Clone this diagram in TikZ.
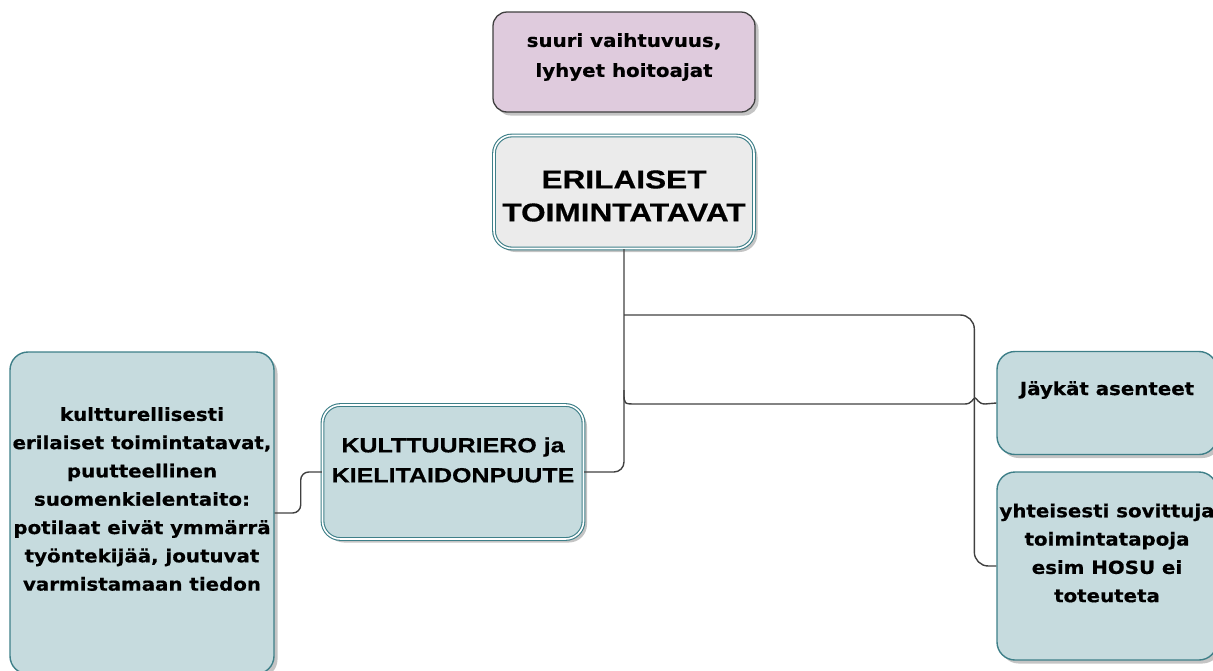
\documentclass[tikz,border=0pt]{standalone}
\usepackage{fontspec}
\usetikzlibrary{calc}
\newfontfamily\dvs[FakeStretch=1.1,FakeBold=0.5]{DejaVu Sans}
\newfontfamily\lbs[FakeStretch=1.22,FakeBold=0.5]{Liberation Sans}
\definecolor{teal1}{HTML}{3E7F88}
\definecolor{tealfill}{HTML}{C6DBDE}
\definecolor{pinkfill}{HTML}{DFCBDD}
\definecolor{grayfill}{HTML}{EBEBEB}
\definecolor{shadowc}{HTML}{C4C4C4}
\definecolor{linec}{HTML}{404040}
\tikzset{
  shadowed/.style={preaction={fill=shadowc, transform canvas={shift={(3.5pt,-3.5pt)}}}},
  pinkbox/.style={draw=linec, line width=1.3pt, fill=pinkfill, rounded corners=14pt, shadowed, inner sep=0pt},
  graybox/.style={draw=teal1, double=white, double distance=1.6pt, line width=1.1pt, fill=grayfill, rounded corners=18pt, shadowed, inner sep=0pt},
  dtealbox/.style={draw=teal1, double=white, double distance=1.6pt, line width=1.1pt, fill=tealfill, rounded corners=18pt, shadowed, inner sep=0pt},
  tealbox/.style={draw=teal1, line width=1.4pt, fill=tealfill, rounded corners=18pt, shadowed, inner sep=0pt},
  smalltxt/.style={font=\dvs\bfseries\fontsize{18}{28.3}\selectfont, align=center, inner sep=0pt},
  conn/.style={draw=linec, line width=1.4pt},
}
\begin{document}
\begin{tikzpicture}[x=1pt,y=-1pt]
\useasboundingbox (0,0) rectangle (1213,670);
% boxes
\node[pinkbox, minimum width=262pt, minimum height=100pt] (pink) at (624,62) {};
\node[graybox, minimum width=260pt, minimum height=113pt] (eri) at (624,192) {};
\node[dtealbox, minimum width=261pt, minimum height=134pt] (kul) at (453,472) {};
\node[tealbox, minimum width=264pt, minimum height=322pt] (left) at (142,513) {};
\node[tealbox, minimum width=220pt, minimum height=103pt] (jay) at (1107,403) {};
\node[tealbox, minimum width=220pt, minimum height=188pt] (yht) at (1107,566) {};
% texts
\node[smalltxt, font=\dvs\bfseries\fontsize{18}{30}\selectfont] (tpink) at (624,57) {suuri vaihtuvuus,\\lyhyet hoitoajat};
\node[font=\lbs\bfseries\fontsize{25.9}{33}\selectfont, align=center, inner sep=0pt] (teri) at (624,196) {ERILAISET\\TOIMINTATAVAT};
\node[font=\lbs\bfseries\fontsize{20.5}{30}\selectfont, align=center, inner sep=0pt] (tkul) at (453,460) {KULTTUURIERO ja\\KIELITAIDONPUUTE};
\node[smalltxt] (tleft) at (142,499) {kultturellisesti\\erilaiset toimintatavat,\\puutteellinen\\suomenkielentaito:\\potilaat eivät ymmärrä\\työntekijää, joutuvat\\varmistamaan tiedon};
\node[smalltxt] (tjay) at (1107,390) {Jäykät asenteet};
\node[smalltxt] (tyht) at (1107,553) {yhteisesti sovittuja\\toimintatapoja\\esim HOSU ei\\toteuteta};
% connectors
\coordinate (b1) at (624,315);
\coordinate (b2) at (624,390);
\coordinate (jx) at (975,404);
\draw[conn, rounded corners=10pt] (eri.south) |- (kul.east);
\draw[conn, rounded corners=14pt] (b1) -| ($(yht.west)+(-22,0)$) -- (yht.west);
\draw[conn] (b2) -- ($(b2)+(0,3)$) .. controls ($(b2)+(0,14)$) .. ($(b2)+(12,14)$) -- ($(jx)+(-10,0)$) .. controls ($(jx)+(-3,0)$) and ($(jx)+(-2,-6)$) .. ($(jx)+(0,-6)$) .. controls ($(jx)+(2,-6)$) and ($(jx)+(3,0)$) .. ($(jx)+(10,0)$) -- (jay.west);
\draw[conn, rounded corners=8pt] (left.east) -- ++(26,0) |- (kul.west);
\end{tikzpicture}
\end{document}
